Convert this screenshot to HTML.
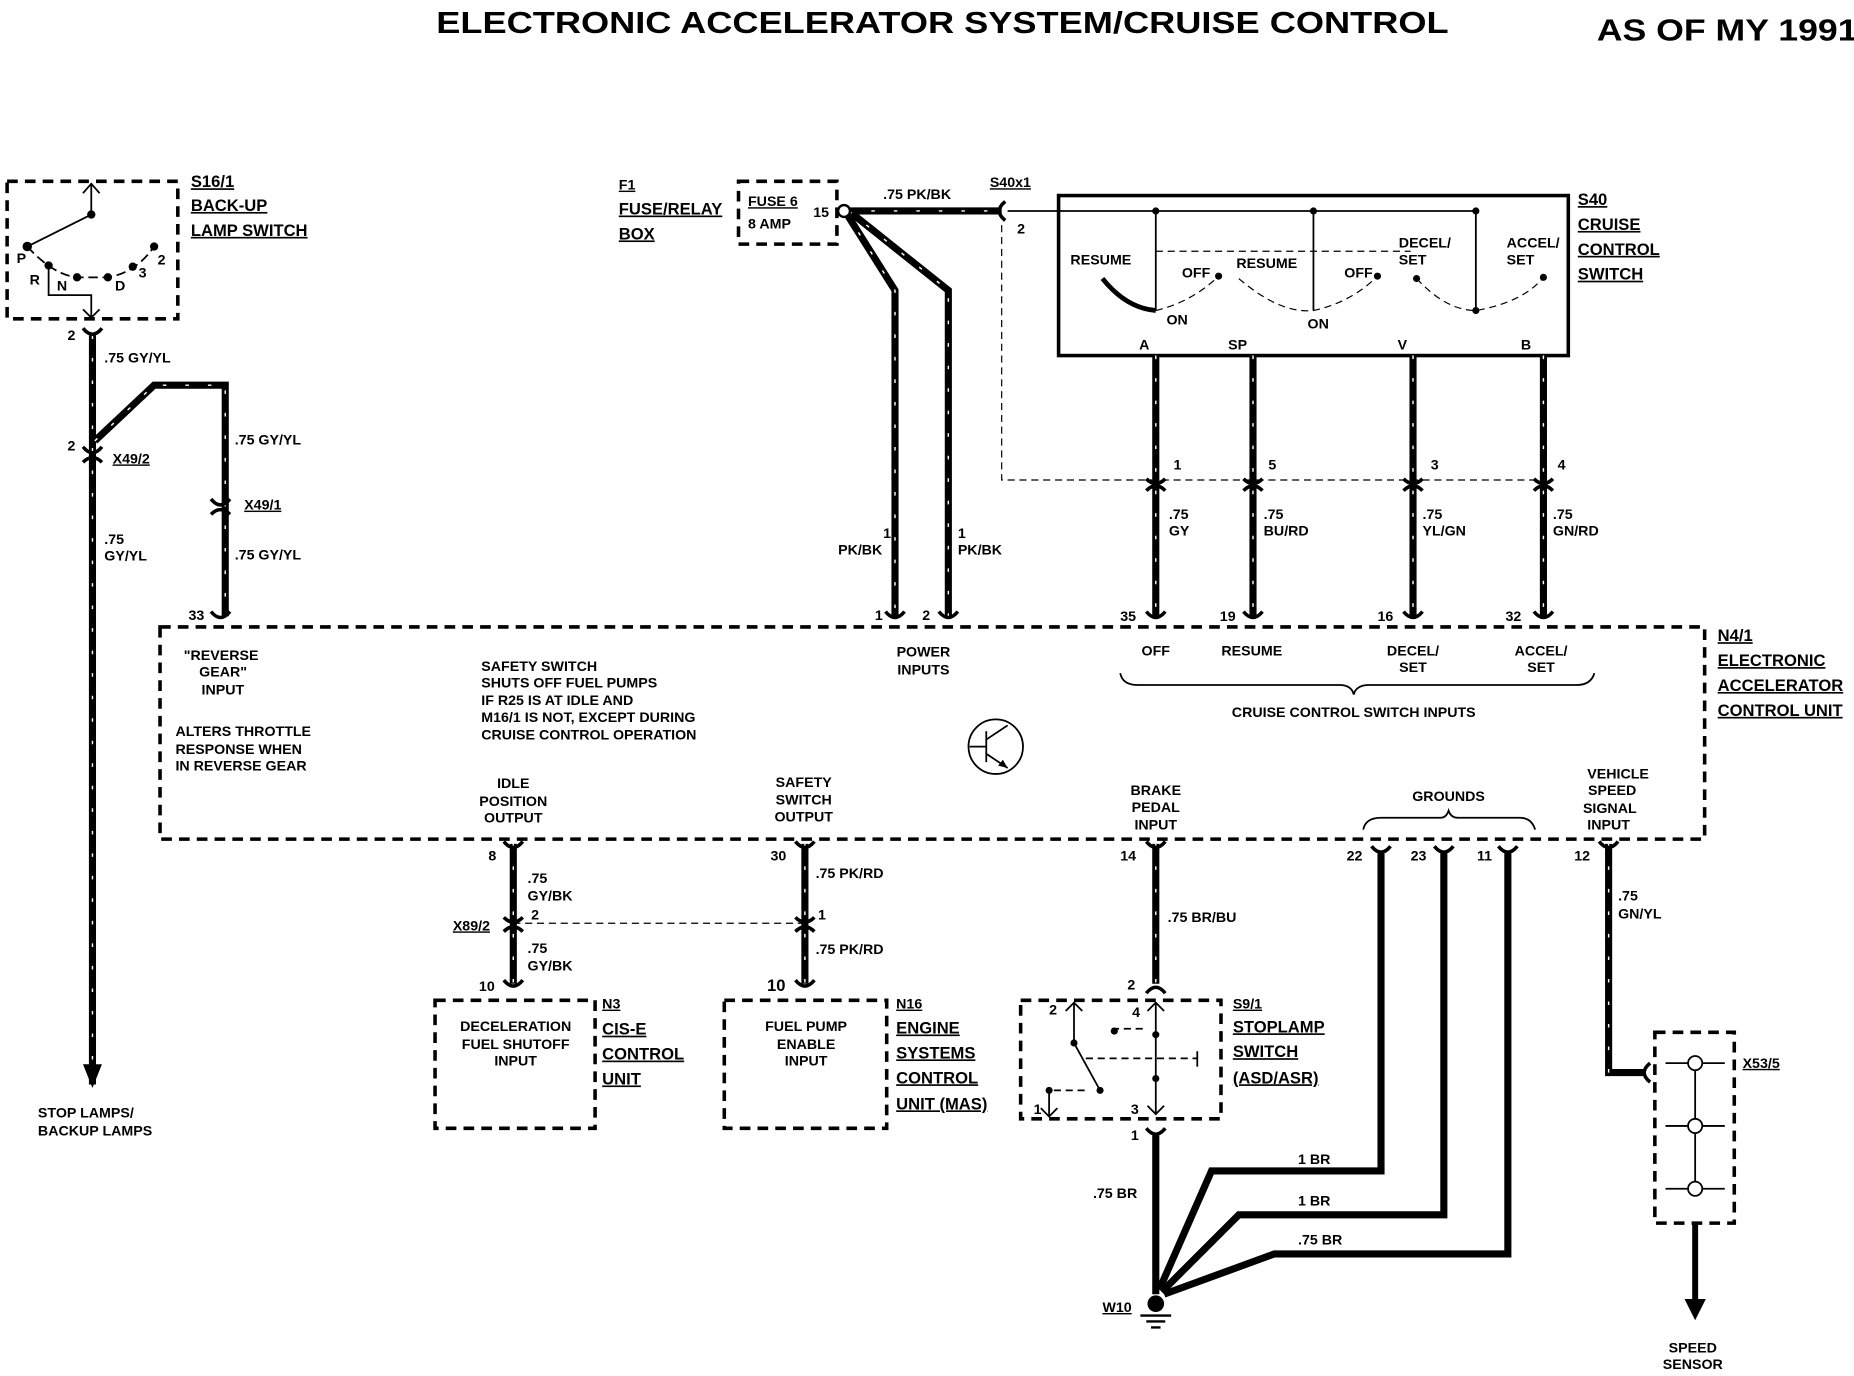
<!DOCTYPE html>
<html><head><meta charset="utf-8"><style>
html,body{margin:0;padding:0;background:#fff;}
svg{display:block;}
text{font-family:"Liberation Sans",Arial,sans-serif;font-weight:bold;fill:#000;}
.s{font-size:12px;}
.m{font-size:14px;}
.w{stroke:#000;stroke-width:6;fill:none;}
.ws{stroke:#fff;stroke-width:1.2;fill:none;stroke-dasharray:3 16;}
.d{stroke:#000;stroke-width:3;fill:none;stroke-dasharray:9 6;}
.th{stroke:#000;stroke-width:1.5;fill:none;}
.dl{stroke:#000;stroke-width:1;fill:none;stroke-dasharray:6 4;}
</style></head><body>
<svg width="1854" height="1376" viewBox="0 0 1564 1161" preserveAspectRatio="none" xmlns="http://www.w3.org/2000/svg">
<defs>
<g id="cu"><path d="M-8,-6 Q0,4 8,-6" stroke="#000" stroke-width="3" fill="none"/></g>
</defs>
<text x="368" y="28" font-size="26" textLength="854" lengthAdjust="spacingAndGlyphs">ELECTRONIC ACCELERATOR SYSTEM/CRUISE CONTROL</text>
<text x="1347" y="34" font-size="26" textLength="220" lengthAdjust="spacingAndGlyphs">AS OF MY 1991</text>

<!-- S16/1 -->
<rect x="6" y="153" width="144" height="116" class="d"/>
<text x="161" y="158" class="m" text-decoration="underline">S16/1</text>
<text x="161" y="178" class="m" text-decoration="underline">BACK-UP</text>
<text x="161" y="199" class="m" text-decoration="underline">LAMP SWITCH</text>
<g class="th" stroke-width="2">
<path d="M77,155 V181 L23,208"/><path d="M70,163 L77,155 L84,163"/>
<path d="M23,208 Q45,232 65,234 H91 Q115,230 130,208" stroke-dasharray="8 4"/>
<path d="M41,224 V249 H77 V268"/><path d="M70,261 L77,268 L84,261"/>
</g>
<g fill="#000"><circle cx="77" cy="181" r="3.5"/><circle cx="23" cy="208" r="4"/><circle cx="41" cy="224" r="3.5"/><circle cx="65" cy="234" r="3.5"/><circle cx="91" cy="234" r="3.5"/><circle cx="112" cy="225" r="3.5"/><circle cx="130" cy="208" r="3.5"/></g>
<text x="14" y="222" class="s">P</text><text x="25" y="240" class="s">R</text><text x="48" y="245" class="s">N</text><text x="97" y="245" class="s">D</text><text x="117" y="234" class="s">3</text><text x="133" y="223" class="s">2</text>

<!-- left wires -->
<path d="M78,283 V915" class="w"/><path d="M78,283 V900" class="ws"/>
<path d="M70,898 L78,918 L86,898" fill="#000"/>
<path d="M80,372 L130,325 H190 V520" class="w"/><path d="M80,372 L130,325 H190 V520" class="ws"/>
<use href="#cu" x="78" y="283"/><use href="#cu" x="78" y="383"/><use href="#cu" x="186" y="427"/><use href="#cu" x="186" y="522"/>
<path d="M70,390 Q78,382 86,390" stroke="#000" stroke-width="3" fill="none"/>
<path d="M178,434 Q186,426 194,434" stroke="#000" stroke-width="3" fill="none"/>
<text x="57" y="287" class="s">2</text>
<text x="88" y="306" class="s">.75 GY/YL</text>
<text x="57" y="380" class="s">2</text><text x="95" y="391" class="s" text-decoration="underline">X49/2</text>
<text x="198" y="375" class="s">.75 GY/YL</text>
<text x="206" y="430" class="s" text-decoration="underline">X49/1</text>
<text x="88" y="459" class="s">.75</text><text x="88" y="473" class="s">GY/YL</text>
<text x="198" y="472" class="s">.75 GY/YL</text>
<text x="159" y="523" class="s">33</text>
<text x="32" y="943" class="s">STOP LAMPS/</text><text x="32" y="958" class="s">BACKUP LAMPS</text>

<!-- F1 -->
<text x="522" y="160" class="s" text-decoration="underline">F1</text>
<text x="522" y="181" class="m" text-decoration="underline">FUSE/RELAY</text>
<text x="522" y="202" class="m" text-decoration="underline">BOX</text>
<rect x="623" y="153" width="83" height="53" class="d"/>
<text x="631" y="174" class="s" text-decoration="underline">FUSE 6</text>
<text x="631" y="193" class="s">8 AMP</text>
<text x="686" y="183" class="s">15</text>
<path d="M716,178 H845" class="w"/><path d="M716,178 H845" class="ws"/>
<path d="M714,180 L755,245 V520" class="w"/><path d="M714,180 L755,245 V520" class="ws"/>
<path d="M716,178 L800,245 V520" class="w"/><path d="M716,178 L800,245 V520" class="ws"/>
<circle cx="712" cy="178" r="5" fill="#fff" stroke="#000" stroke-width="2"/>
<text x="745" y="168" class="s">.75 PK/BK</text>
<text x="835" y="158" class="s" text-decoration="underline">S40x1</text>
<path d="M848,170 Q838,178 848,186" stroke="#000" stroke-width="3" fill="none"/>
<text x="858" y="197" class="s">2</text>
<text x="745" y="454" class="s">1</text><text x="707" y="468" class="s">PK/BK</text>
<text x="808" y="454" class="s">1</text><text x="808" y="468" class="s">PK/BK</text>
<use href="#cu" x="755" y="522"/><use href="#cu" x="800" y="522"/>
<text x="738" y="523" class="s">1</text><text x="778" y="523" class="s">2</text>

<!-- S40 -->
<rect x="893" y="165" width="430" height="135" stroke="#000" stroke-width="3" fill="none"/>
<text x="1331" y="173" class="m" text-decoration="underline">S40</text>
<text x="1331" y="194" class="m" text-decoration="underline">CRUISE</text>
<text x="1331" y="215" class="m" text-decoration="underline">CONTROL</text>
<text x="1331" y="236" class="m" text-decoration="underline">SWITCH</text>
<path d="M850,178 H1245" class="th" stroke-width="2"/>
<path d="M975,178 V262 M1108,178 V262 M1245,178 V262" class="th"/>
<g fill="#000"><circle cx="975" cy="178" r="3"/><circle cx="1108" cy="178" r="3"/><circle cx="1245" cy="178" r="3"/></g>
<path d="M975,212 H1190" class="dl"/>
<path d="M930,235 Q950,260 975,262" stroke="#000" stroke-width="4" fill="none"/>
<path d="M975,262 Q1005,255 1028,233" class="dl"/>
<path d="M1045,235 Q1080,265 1108,262 Q1140,255 1162,233" class="dl"/>
<path d="M1195,235 Q1220,262 1245,262 Q1285,255 1302,234" class="dl"/>
<g fill="#000"><circle cx="1028" cy="233" r="3"/><circle cx="1162" cy="233" r="3"/><circle cx="1195" cy="235" r="3"/><circle cx="1302" cy="234" r="3"/><circle cx="1245" cy="262" r="3"/></g>
<text x="903" y="223" class="s">RESUME</text><text x="997" y="234" class="s">OFF</text>
<text x="1043" y="226" class="s">RESUME</text><text x="1134" y="234" class="s">OFF</text>
<text x="984" y="274" class="s">ON</text><text x="1103" y="277" class="s">ON</text>
<text x="1180" y="209" class="s">DECEL/</text><text x="1180" y="223" class="s">SET</text>
<text x="1271" y="209" class="s">ACCEL/</text><text x="1271" y="223" class="s">SET</text>
<text x="961" y="295" class="s">A</text><text x="1036" y="295" class="s">SP</text><text x="1179" y="295" class="s">V</text><text x="1283" y="295" class="s">B</text>
<path d="M845,190 V405 H1302" class="dl"/>
<g>
<path d="M975,300 V520 M1057,300 V520 M1192,300 V520 M1302,300 V520" class="w"/>
<path d="M975,300 V520 M1057,300 V520 M1192,300 V520 M1302,300 V520" class="ws"/>
</g>
<g stroke="#000" stroke-width="3" fill="none">
<path d="M967,404 Q975,412 983,404 M967,414 Q975,406 983,414"/>
<path d="M1049,404 Q1057,412 1065,404 M1049,414 Q1057,406 1065,414"/>
<path d="M1184,404 Q1192,412 1200,404 M1184,414 Q1192,406 1200,414"/>
<path d="M1294,404 Q1302,412 1310,404 M1294,414 Q1302,406 1310,414"/>
</g>
<text x="990" y="396" class="s">1</text><text x="1070" y="396" class="s">5</text><text x="1207" y="396" class="s">3</text><text x="1314" y="396" class="s">4</text>
<text x="986" y="438" class="s">.75</text><text x="986" y="452" class="s">GY</text>
<text x="1066" y="438" class="s">.75</text><text x="1066" y="452" class="s">BU/RD</text>
<text x="1200" y="438" class="s">.75</text><text x="1200" y="452" class="s">YL/GN</text>
<text x="1310" y="438" class="s">.75</text><text x="1310" y="452" class="s">GN/RD</text>
<use href="#cu" x="975" y="522"/><use href="#cu" x="1057" y="522"/><use href="#cu" x="1192" y="522"/><use href="#cu" x="1302" y="522"/>
<text x="945" y="524" class="s">35</text><text x="1029" y="524" class="s">19</text><text x="1162" y="524" class="s">16</text><text x="1270" y="524" class="s">32</text>

<!-- N4/1 -->
<rect x="135" y="529" width="1303" height="179" class="d"/>
<text x="1449" y="541" class="m" text-decoration="underline">N4/1</text>
<text x="1449" y="562" class="m" text-decoration="underline">ELECTRONIC</text>
<text x="1449" y="583" class="m" text-decoration="underline">ACCELERATOR</text>
<text x="1449" y="604" class="m" text-decoration="underline">CONTROL UNIT</text>
<text x="155" y="557" class="s">"REVERSE</text><text x="168" y="571" class="s">GEAR"</text><text x="170" y="586" class="s">INPUT</text>
<text x="148" y="621" class="s">ALTERS THROTTLE</text><text x="148" y="636" class="s">RESPONSE WHEN</text><text x="148" y="650" class="s">IN REVERSE GEAR</text>
<text x="406" y="566" class="s">SAFETY SWITCH</text><text x="406" y="580" class="s">SHUTS OFF FUEL PUMPS</text><text x="406" y="595" class="s">IF R25 IS AT IDLE AND</text><text x="406" y="609" class="s">M16/1 IS NOT, EXCEPT DURING</text><text x="406" y="624" class="s">CRUISE CONTROL OPERATION</text>
<g text-anchor="middle">
<text x="779" y="554" class="s">POWER</text><text x="779" y="569" class="s">INPUTS</text>
<text x="975" y="553" class="s">OFF</text><text x="1056" y="553" class="s">RESUME</text>
<text x="1192" y="553" class="s">DECEL/</text><text x="1192" y="567" class="s">SET</text>
<text x="1300" y="553" class="s">ACCEL/</text><text x="1300" y="567" class="s">SET</text>
<text x="1142" y="605" class="s">CRUISE CONTROL SWITCH INPUTS</text>
<text x="433" y="665" class="s">IDLE</text><text x="433" y="680" class="s">POSITION</text><text x="433" y="694" class="s">OUTPUT</text>
<text x="678" y="664" class="s">SAFETY</text><text x="678" y="679" class="s">SWITCH</text><text x="678" y="693" class="s">OUTPUT</text>
<text x="975" y="671" class="s">BRAKE</text><text x="975" y="685" class="s">PEDAL</text><text x="975" y="700" class="s">INPUT</text>
<text x="1222" y="676" class="s">GROUNDS</text>
<text x="1365" y="657" class="s">VEHICLE</text><text x="1360" y="671" class="s">SPEED</text><text x="1358" y="686" class="s">SIGNAL</text><text x="1357" y="700" class="s">INPUT</text>
</g>
<path d="M945,568 Q947,578 960,578 H1130 Q1140,578 1142,586 Q1144,578 1155,578 H1330 Q1342,578 1345,568" class="th" stroke-width="2"/>
<path d="M1150,700 Q1152,690 1165,690 H1215 Q1220,690 1222,684 Q1224,690 1230,690 H1282 Q1292,690 1295,700" class="th" stroke-width="2"/>
<circle cx="840" cy="630" r="23" class="th" stroke-width="2"/>
<path d="M818,630 H832 M832,617 V643 M832,624 L850,612 M832,636 L850,648" class="th" stroke-width="2"/>
<path d="M850,648 L842,646 L846,641 Z" fill="#000"/>

<!-- bottom left -->
<path d="M433,712 V830 M679,712 V830" class="w"/><path d="M433,712 V830 M679,712 V830" class="ws"/>
<use href="#cu" x="433" y="716"/><use href="#cu" x="679" y="716"/><use href="#cu" x="433" y="833"/><use href="#cu" x="679" y="833"/>
<g stroke="#000" stroke-width="3" fill="none">
<path d="M425,774 Q433,782 441,774 M425,786 Q433,778 441,786"/>
<path d="M671,774 Q679,782 687,774 M671,786 Q679,778 687,786"/>
</g>
<path d="M433,779 H679" class="dl"/>
<text x="412" y="726" class="s">8</text><text x="650" y="726" class="s">30</text>
<text x="445" y="745" class="s">.75</text><text x="445" y="760" class="s">GY/BK</text>
<text x="382" y="785" class="s" text-decoration="underline">X89/2</text><text x="448" y="776" class="s">2</text>
<text x="445" y="804" class="s">.75</text><text x="445" y="819" class="s">GY/BK</text>
<text x="688" y="741" class="s">.75 PK/RD</text><text x="690" y="776" class="s">1</text><text x="688" y="805" class="s">.75 PK/RD</text>
<text x="404" y="836" class="s">10</text><text x="647" y="836" class="m">10</text>
<rect x="367" y="844" width="135" height="108" class="d"/>
<g text-anchor="middle"><text x="435" y="870" class="s">DECELERATION</text><text x="435" y="885" class="s">FUEL SHUTOFF</text><text x="435" y="899" class="s">INPUT</text>
<text x="680" y="870" class="s">FUEL PUMP</text><text x="680" y="885" class="s">ENABLE</text><text x="680" y="899" class="s">INPUT</text></g>
<text x="508" y="851" class="s" text-decoration="underline">N3</text>
<text x="508" y="873" class="m" text-decoration="underline">CIS-E</text>
<text x="508" y="894" class="m" text-decoration="underline">CONTROL</text>
<text x="508" y="915" class="m" text-decoration="underline">UNIT</text>
<rect x="611" y="844" width="137" height="108" class="d"/>
<text x="756" y="851" class="s" text-decoration="underline">N16</text>
<text x="756" y="872" class="m" text-decoration="underline">ENGINE</text>
<text x="756" y="893" class="m" text-decoration="underline">SYSTEMS</text>
<text x="756" y="914" class="m" text-decoration="underline">CONTROL</text>
<text x="756" y="936" class="m" text-decoration="underline">UNIT (MAS)</text>

<!-- brake -->
<path d="M975,712 V830" class="w"/><path d="M975,712 V830" class="ws"/>
<use href="#cu" x="975" y="716"/>
<path d="M967,838 Q975,828 983,838" stroke="#000" stroke-width="3" fill="none"/>
<text x="945" y="726" class="s">14</text><text x="985" y="778" class="s">.75 BR/BU</text><text x="951" y="835" class="s">2</text>
<rect x="861" y="844" width="169" height="100" class="d"/>
<text x="1040" y="851" class="s" text-decoration="underline">S9/1</text>
<text x="1040" y="871" class="m" text-decoration="underline">STOPLAMP</text>
<text x="1040" y="892" class="m" text-decoration="underline">SWITCH</text>
<text x="1040" y="914" class="m" text-decoration="underline">(ASD/ASR)</text>
<g class="th">
<path d="M906,846 V880 L928,920 M899,853 L906,846 L913,853"/>
<path d="M885,920 V942 M878,935 L885,942 L892,935"/>
<path d="M889,920 H915 M916,893 H1010 M938,868 H966" stroke-dasharray="6 4"/>
<path d="M1010,887 V900"/>
<path d="M975,846 V940 M968,853 L975,846 L982,853 M968,933 L975,940 L982,933"/>
</g>
<g fill="#000"><circle cx="906" cy="880" r="3"/><circle cx="928" cy="920" r="3"/><circle cx="885" cy="920" r="3"/><circle cx="975" cy="873" r="3"/><circle cx="975" cy="910" r="3"/><circle cx="940" cy="870" r="3"/></g>
<text x="885" y="856" class="s">2</text><text x="955" y="858" class="s">4</text><text x="872" y="940" class="s">1</text><text x="954" y="940" class="s">3</text>
<path d="M967,952 Q975,962 983,952" stroke="#000" stroke-width="3" fill="none"/>
<text x="954" y="962" class="s">1</text>
<text x="922" y="1011" class="s">.75 BR</text>
<g stroke="#000" stroke-width="6" fill="none" stroke-linejoin="miter">
<path d="M975,958 V1092"/>
<path d="M1165,720 V988 H1022 L978,1088"/>
<path d="M1218,720 V1025 H1045 L980,1090"/>
<path d="M1272,720 V1058 H1075 L982,1092"/>
</g>
<use href="#cu" x="1165" y="720"/><use href="#cu" x="1218" y="720"/><use href="#cu" x="1272" y="720"/>
<text x="1136" y="726" class="s">22</text><text x="1190" y="726" class="s">23</text><text x="1246" y="726" class="s">11</text>
<text x="1095" y="982" class="s">1 BR</text><text x="1095" y="1017" class="s">1 BR</text><text x="1095" y="1050" class="s">.75 BR</text>
<circle cx="975" cy="1100" r="7" fill="#000"/>
<path d="M962,1110 H988 M967,1115 H983 M971,1120 H979" stroke="#000" stroke-width="2"/>
<text x="930" y="1107" class="s" text-decoration="underline">W10</text>

<!-- speed -->
<path d="M1357,712 V905 H1388" class="w"/><path d="M1357,712 V905" class="ws"/>
<use href="#cu" x="1357" y="716"/>
<path d="M1392,897 Q1382,905 1392,913" stroke="#000" stroke-width="3" fill="none"/>
<text x="1328" y="726" class="s">12</text>
<text x="1365" y="760" class="s">.75</text><text x="1365" y="775" class="s">GN/YL</text>
<rect x="1396" y="871" width="67" height="161" class="d"/>
<path d="M1430,897 V1003 M1405,897 H1455 M1405,950 H1455 M1405,1003 H1455" class="th"/>
<circle cx="1430" cy="897" r="6" fill="#fff" stroke="#000" stroke-width="1.5"/>
<circle cx="1430" cy="950" r="6" fill="#fff" stroke="#000" stroke-width="1.5"/>
<circle cx="1430" cy="1003" r="6" fill="#fff" stroke="#000" stroke-width="1.5"/>
<text x="1470" y="901" class="s" text-decoration="underline">X53/5</text>
<path d="M1430,1032 V1100" stroke="#000" stroke-width="5"/>
<path d="M1421,1096 L1430,1114 L1439,1096 Z" fill="#000"/>
<g text-anchor="middle"><text x="1428" y="1141" class="s">SPEED</text><text x="1428" y="1155" class="s">SENSOR</text></g>
</svg>
</body></html>
